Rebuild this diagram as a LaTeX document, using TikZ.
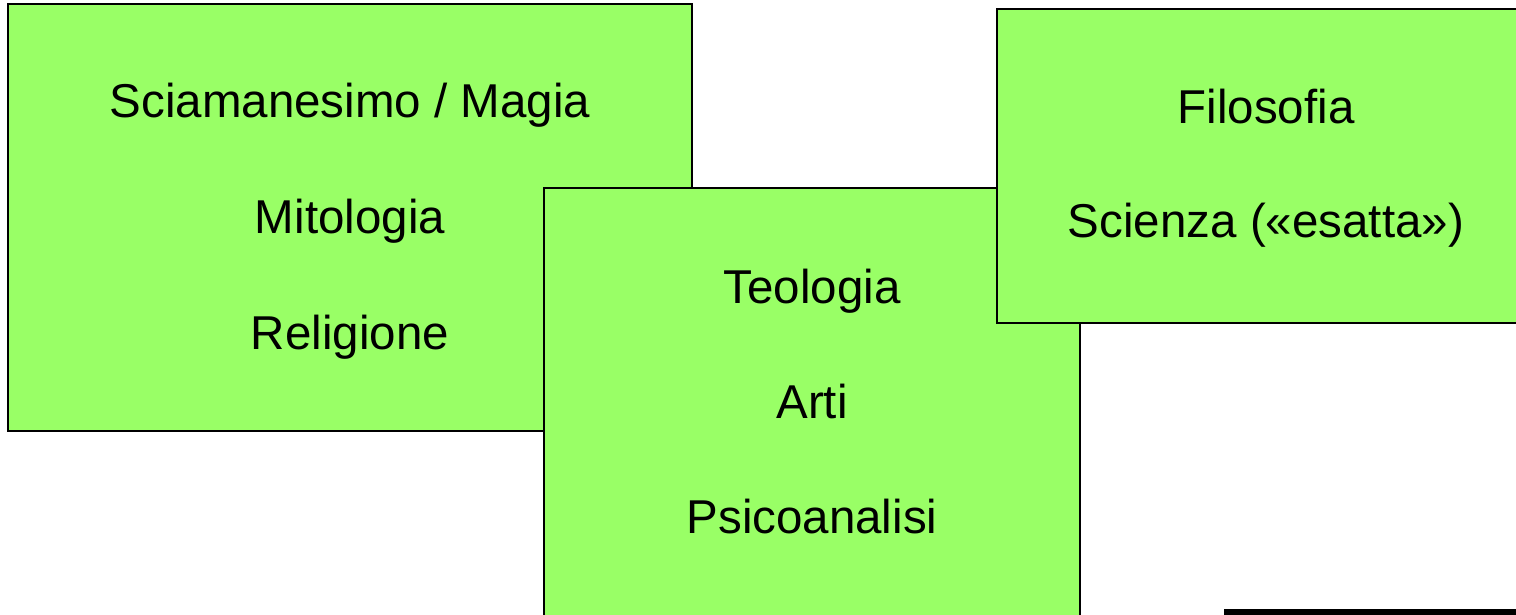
\documentclass[tikz,border=0pt]{standalone}
\usepackage{fontspec}
\setmainfont{Liberation Sans}
\definecolor{panelgreen}{RGB}{153,255,102}
\begin{document}
\begin{tikzpicture}[x=1pt,y=-1pt,
  panel/.style={draw=black, line width=2pt, fill=panelgreen, inner sep=0pt, rectangle},
  label/.style={anchor=base, inner sep=0pt, font=\fontsize{47.5}{57}\selectfont}]
\useasboundingbox (0,0) rectangle (1516,614);
\clip (0,0) rectangle (1516,614);
% first panel: magic, myth, religion
\node[panel, minimum width=684pt, minimum height=427pt] (magic) at (350,217.5) {};
\node[label] (sciam) at (350,117) {Sciamanesimo / Magia};
\node[label] (mito) at (350,233) {Mitologia};
\node[label] (relig) at (350,349) {Religione};
% second panel: theology, arts, psychoanalysis
\node[panel, minimum width=536pt, minimum height=462pt] (theo) at (812,419) {};
\node[label] (teol) at (812,303) {Teologia};
\node[label] (arti) at (812,418) {Arti};
\node[label] (psico) at (812,533) {Psicoanalisi};
% third panel: philosophy and science
\node[panel, minimum width=538pt, minimum height=314pt] (philo) at (1266,166) {};
\node[label] (filo) at (1266,123) {Filosofia};
\node[label] (scien) at (1266,237) {Scienza («esatta»)};
% black strip at the lower right edge
\fill[black] (1224,609) rectangle (1520,620);
\end{tikzpicture}
\end{document}
